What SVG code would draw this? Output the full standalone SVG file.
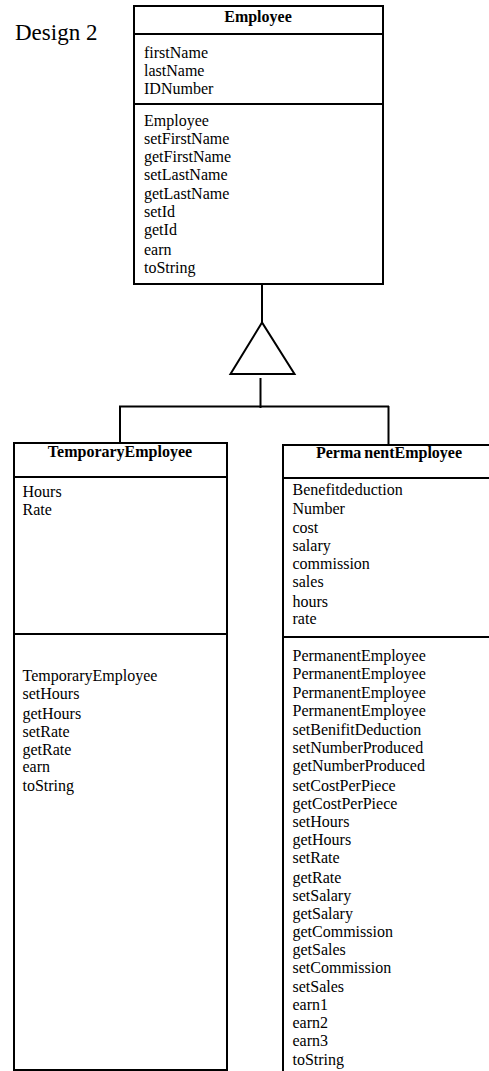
<svg xmlns="http://www.w3.org/2000/svg" width="489" height="1071" viewBox="0 0 489 1071">
<style>
text{font-family:"Liberation Serif","Times New Roman",serif;font-size:16px;fill:#000}
.t{font-weight:bold;text-anchor:middle}
.box{fill:#fff;stroke:#000;stroke-width:2}
.ln{fill:none;stroke:#000;stroke-width:2}
</style>
<rect width="489" height="1071" fill="#fff"/>
<text x="15" y="40" style="font-size:23px">Design 2</text>
<g id="employee">
<rect class="box" x="134" y="6" width="249" height="278"/>
<line class="ln" x1="134" y1="34" x2="383" y2="34"/>
<line class="ln" x1="134" y1="104" x2="383" y2="104"/>
<text class="t" x="258" y="22">Employee</text>
<text x="144" y="58">firstName</text>
<text x="144" y="76">lastName</text>
<text x="144" y="94">IDNumber</text>
<text x="144" y="126">Employee</text>
<text x="144" y="144">setFirstName</text>
<text x="144" y="162">getFirstName</text>
<text x="144" y="180">setLastName</text>
<text x="144" y="199">getLastName</text>
<text x="144" y="217">setId</text>
<text x="144" y="235">getId</text>
<text x="144" y="254.5">earn</text>
<text x="144" y="272.5">toString</text>
</g>
<g id="temporary">
<rect class="box" x="14" y="443" width="213" height="627"/>
<line class="ln" x1="14" y1="477" x2="227" y2="477"/>
<line class="ln" x1="14" y1="634" x2="227" y2="634"/>
<text class="t" x="120" y="457">TemporaryEmployee</text>
<text x="22.5" y="497">Hours</text>
<text x="22.5" y="515">Rate</text>
<text x="22.5" y="681">TemporaryEmployee</text>
<text x="22.5" y="699">setHours</text>
<text x="22.5" y="718.5">getHours</text>
<text x="22.5" y="736.5">setRate</text>
<text x="22.5" y="755">getRate</text>
<text x="22.5" y="772">earn</text>
<text x="22.5" y="790.5">toString</text>
</g>
<g id="permanent">
<rect class="box" x="283" y="445" width="220" height="640"/>
<line class="ln" x1="283" y1="478" x2="503" y2="478"/>
<line class="ln" x1="283" y1="637" x2="503" y2="637"/>
<text class="t" x="389" y="458"><tspan>Perma</tspan><tspan dx="3">nentEmployee</tspan></text>
<text x="292.5" y="495">Benefitdeduction</text>
<text x="292.5" y="513.5">Number</text>
<text x="292.5" y="532.5">cost</text>
<text x="292.5" y="551">salary</text>
<text x="292.5" y="568.5">commission</text>
<text x="292.5" y="586.5">sales</text>
<text x="292.5" y="606.5">hours</text>
<text x="292.5" y="624">rate</text>
<text x="292.5" y="660.5">PermanentEmployee</text>
<text x="292.5" y="678.5">PermanentEmployee</text>
<text x="292.5" y="698">PermanentEmployee</text>
<text x="292.5" y="716">PermanentEmployee</text>
<text x="292.5" y="734.5">setBenifitDeduction</text>
<text x="292.5" y="752.5">setNumberProduced</text>
<text x="292.5" y="770.5">getNumberProduced</text>
<text x="292.5" y="790.5">setCostPerPiece</text>
<text x="292.5" y="808.5">getCostPerPiece</text>
<text x="292.5" y="826.5">setHours</text>
<text x="292.5" y="845">getHours</text>
<text x="292.5" y="862.5">setRate</text>
<text x="292.5" y="882.5">getRate</text>
<text x="292.5" y="900.5">setSalary</text>
<text x="292.5" y="918.5">getSalary</text>
<text x="292.5" y="936.5">getCommission</text>
<text x="292.5" y="954.5">getSales</text>
<text x="292.5" y="973">setCommission</text>
<text x="292.5" y="992">setSales</text>
<text x="292.5" y="1010">earn1</text>
<text x="292.5" y="1028">earn2</text>
<text x="292.5" y="1046">earn3</text>
<text x="292.5" y="1065">toString</text>
</g>
<g id="connectors">
<line class="ln" x1="262" y1="284" x2="262" y2="322"/>
<polygon class="ln" points="262,322.5 230.5,374 294.5,374"/>
<line class="ln" x1="260.5" y1="378" x2="260.5" y2="408"/>
<line class="ln" x1="119" y1="406.5" x2="389" y2="406.5"/>
<line class="ln" x1="120" y1="406" x2="120" y2="443"/>
<line class="ln" x1="388.5" y1="406" x2="388.5" y2="445"/>
</g>
</svg>
